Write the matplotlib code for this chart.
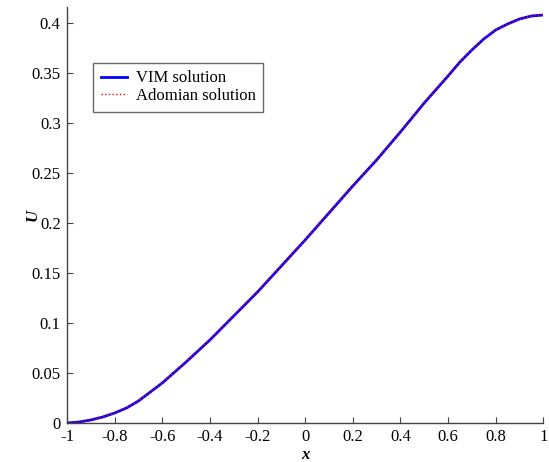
import numpy as np
import matplotlib
matplotlib.use('Agg')
import matplotlib.pyplot as plt

plt.rcParams['font.family'] = ['Liberation Serif', 'DejaVu Serif']

# values
x = [-1.0, -0.95, -0.9, -0.85, -0.8, -0.75, -0.7, -0.65, -0.6, -0.5, -0.4, -0.3, -0.2, -0.1,
     0.0, 0.1, 0.2, 0.3, 0.4, 0.5, 0.6, 0.65, 0.7, 0.75, 0.8, 0.85, 0.9, 0.95, 1.0]
u_vim = [0.0, 0.001, 0.003, 0.006, 0.010, 0.015, 0.022, 0.031, 0.040, 0.061, 0.083, 0.107,
         0.131, 0.157, 0.183, 0.210, 0.237, 0.263, 0.291, 0.320, 0.347, 0.361, 0.373, 0.384,
         0.393, 0.399, 0.404, 0.407, 0.408]
u_adomian = list(u_vim)

xticks = [-1, -0.8, -0.6, -0.4, -0.2, 0, 0.2, 0.4, 0.6, 0.8, 1]
xtick_labels = ['-1', '-0.8', '-0.6', '-0.4', '-0.2', '0', '0.2', '0.4', '0.6', '0.8', '1']
yticks = [0, 0.05, 0.1, 0.15, 0.2, 0.25, 0.3, 0.35, 0.4]
ytick_labels = ['0', '0.05', '0.1', '0.15', '0.2', '0.25', '0.3', '0.35', '0.4']

fig = plt.figure(figsize=(5.49, 4.62), dpi=100)
ax = fig.add_axes([67/549, 1 - 423/462, (543.3 - 67)/549, (423 - 7)/462])

ax.plot(x, u_vim, color='#0000ff', lw=2.0, label='VIM solution')
ax.plot(x, u_adomian, color='#ff0000', lw=1.0, ls=':', label='Adomian solution')

ax.set_xlim(-1, 1)
ax.set_ylim(0, 0.416)
ax.set_xticks(xticks)
ax.set_xticklabels(xtick_labels)
ax.set_yticks(yticks)
ax.set_yticklabels(ytick_labels)
ax.tick_params(direction='in', length=4, width=0.8, labelsize=12, colors='#444444',
               labelcolor='black')
ax.tick_params(axis='x', pad=4)
ax.tick_params(axis='y', pad=4.5)

for s in ['top', 'right']:
    ax.spines[s].set_visible(False)
for s in ['left', 'bottom']:
    ax.spines[s].set_color('#444444')
    ax.spines[s].set_linewidth(1.0)

ax.set_xlabel('x', fontsize=12, fontweight='bold', style='italic')
ax.set_ylabel('U', fontsize=12, fontweight='bold', style='italic')
ax.xaxis.set_label_coords(0.5, -0.058)
ax.yaxis.set_label_coords(-0.055, 0.5)

leg = ax.legend(loc='upper left', bbox_to_anchor=(93/549, 1 - 63/462),
                bbox_transform=fig.transFigure, fontsize=12, frameon=True,
                fancybox=False, edgecolor='#444444', handlelength=1.6,
                handletextpad=0.5, borderpad=0.45, labelspacing=0.1,
                borderaxespad=0)
leg.get_frame().set_linewidth(1.0)

fig.savefig('out.png', dpi=100)
